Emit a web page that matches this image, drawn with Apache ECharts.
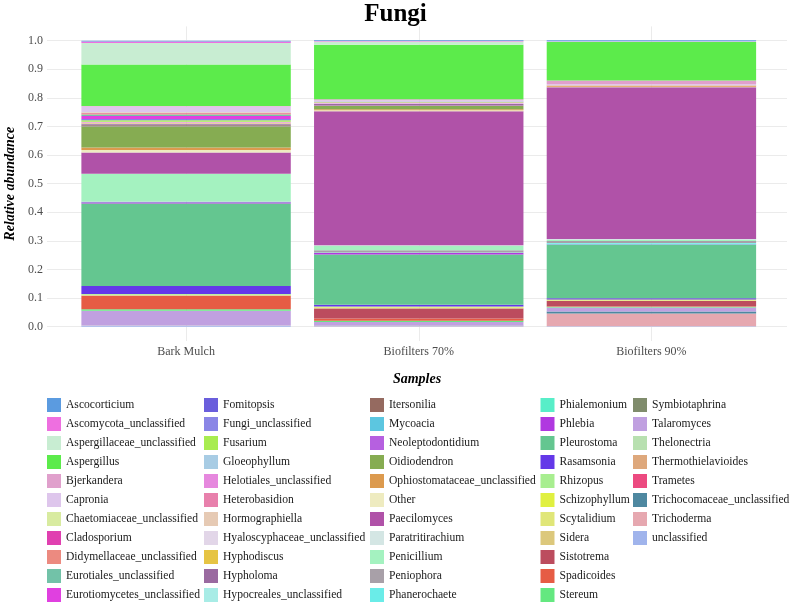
<!DOCTYPE html>
<html>
<head>
<meta charset="utf-8">
<script src="https://cdn.jsdelivr.net/npm/echarts@6/dist/echarts.min.js"></script>
<style>html,body{margin:0;padding:0;background:#fff}#c{width:791px;height:602px}</style>
</head>
<body>
<div id="c"></div>
<script>
const samples = ['Bark Mulch', 'Biofilters 70%', 'Biofilters 90%'];
const yTicks = [0, 0.1, 0.2, 0.3, 0.4, 0.5, 0.6, 0.7, 0.8, 0.9, 1.0];
const genera = ['Ascocorticium','Ascomycota_unclassified','Aspergillaceae_unclassified','Aspergillus','Bjerkandera','Capronia','Chaetomiaceae_unclassified','Cladosporium','Didymellaceae_unclassified','Eurotiales_unclassified','Eurotiomycetes_unclassified',
'Fomitopsis','Fungi_unclassified','Fusarium','Gloeophyllum','Helotiales_unclassified','Heterobasidion','Hormographiella','Hyaloscyphaceae_unclassified','Hyphodiscus','Hypholoma','Hypocreales_unclassified',
'Itersonilia','Mycoacia','Neoleptodontidium','Oidiodendron','Ophiostomataceae_unclassified','Other','Paecilomyces','Paratritirachium','Penicillium','Peniophora','Phanerochaete',
'Phialemonium','Phlebia','Pleurostoma','Rasamsonia','Rhizopus','Schizophyllum','Scytalidium','Sidera','Sistotrema','Spadicoides','Stereum',
'Symbiotaphrina','Talaromyces','Thelonectria','Thermothielavioides','Trametes','Trichocomaceae_unclassified','Trichoderma','unclassified'];
const colors = ['#5B9BE0','#EE6FE0','#C8EDD2','#5CEB4B','#E0A0CC','#DEC6EC','#D8EBA0','#E040B0','#EC8A80','#72C2A8','#E040E0',
'#6A5EDC','#8A86E6','#A8EC50','#A8CCE4','#E688DE','#E880AC','#E6CAB4','#E2D6E8','#E6C444','#9A6AA0','#A8ECE6',
'#956A60','#5CC6E0','#B660E0','#86AC52','#DC9A4E','#EEEBC0','#B052A8','#D4E6E4','#A4F2C0','#A8A0A8','#6AECE8',
'#58EEC8','#B038E0','#64C690','#6438E8','#A8EE90','#E0F040','#E0E678','#DCC87C','#BC4C5E','#E65C44','#64E880',
'#808C6C','#C0A0E0','#B8E0B0','#DEA87C','#EC4A80','#4E88A0','#E6A8B0','#A0B4EC'];
const barkMulch = [0.003,0.005,0.075,0.145,0.002,0.020,0.002,0.002,0.004,0.005,0.011,
0.002,0.002,0.005,0.001,0.002,0.001,0.001,0.001,0.001,0.004,0.001,
0.002,0.001,0.001,0.074,0.009,0.009,0.074,0.001,0.096,0.001,0.001,
0.001,0.004,0.289,0.028,0.002,0.001,0.001,0.002,0.001,0.046,0.005,
0,0.051,0,0,0,0,0.001,0.004];
const biofilters70 = [0.003,0.002,0.012,0.190,0.004,0.004,0,0,0,0.001,0,
0,0.001,0.002,0,0.003,0,0,0.002,0,0.003,0,
0.001,0,0.002,0.012,0.004,0.003,0.4685,0.002,0.0155,0.008,0.001,
0.001,0.005,0.176,0.006,0.001,0.0015,0.003,0.001,0.035,0.0085,0.0045,
0,0.012,0,0,0,0.001,0.001,0.002];
const biofilters90 = [0.003,0.001,0.002,0.135,0.0125,0.005,0,0,0,0,0,
0,0,0,0,0,0,0,0,0,0,0,
0,0,0,0,0.004,0.002,0.530,0.004,0.003,0.007,0.003,
0.003,0.001,0.1865,0.0045,0,0.002,0.002,0.001,0.0185,0.002,0.002,
0.0005,0.014,0,0,0,0.007,0.044,0.002];

const serif = 'Liberation Serif';
const series = [];
for (let i = genera.length - 1; i >= 0; i--) {
  series.push({
    name: genera[i], type: 'bar', stack: 'total', barWidth: '90%',
    xAxisIndex: 1, yAxisIndex: 1,
    itemStyle: { color: colors[i] },
    data: [barkMulch[i], biofilters70[i], biofilters90[i]]
  });
}
series[0].markLine = {
  silent: true, symbol: ['none','none'], z: 1, animation: false,
  label: { show: false },
  lineStyle: { color: '#ebebeb', type: 'solid', width: 1 },
  data: samples.map(s => ({ xAxis: s }))
};
const colLefts = [47, 204, 370, 540.5, 633];
const legends = colLefts.map((l, k) => ({
  orient: 'vertical', left: l, top: 398, height: 260, padding: 0,
  itemWidth: 14, itemHeight: 14, itemGap: 5,
  icon: 'rect', selectedMode: false,
  textStyle: { fontFamily: serif, fontSize: 11.6, color: '#1a1a1a', lineHeight: 14 },
  data: genera.slice(k * 11, k * 11 + 11)
}));

const chart = echarts.init(document.getElementById('c'), null, { renderer: 'canvas' });
chart.setOption({
  animation: false,
  backgroundColor: '#fff',
  title: { text: 'Fungi', left: 'center', top: -3,
    textStyle: { fontFamily: serif, fontSize: 25, fontWeight: 'bold', color: '#000' } },
  legend: legends,
  grid: [
    { left: 47, right: 4, top: 40.7, bottom: 275.3, containLabel: false, outerBoundsMode: 'none' },
    { left: 69.75, right: 23.25, top: 26.4, bottom: 261, containLabel: false, outerBoundsMode: 'none' }
  ],
  xAxis: [
    { type: 'value', gridIndex: 0, min: 0, max: 1,
      name: 'Samples', nameLocation: 'middle', nameGap: 46,
      nameTextStyle: { fontFamily: serif, fontSize: 14, fontWeight: 'bold', fontStyle: 'italic', color: '#000' },
      axisLine: { show: false }, axisTick: { show: false }, axisLabel: { show: false }, splitLine: { show: false } },
    { type: 'category', gridIndex: 1, data: samples,
      axisLine: { show: false }, axisTick: { show: false }, splitLine: { show: false },
      axisLabel: { margin: 5, fontFamily: serif, fontSize: 12, color: '#4d4d4d' } }
  ],
  yAxis: [
    { type: 'value', gridIndex: 0, min: 0, max: 1, interval: 0.1,
      name: 'Relative abundance', nameLocation: 'middle', nameGap: 30, nameRotate: 90,
      nameTextStyle: { fontFamily: serif, fontSize: 14, fontWeight: 'bold', fontStyle: 'italic', color: '#000' },
      axisLine: { show: false }, axisTick: { show: false },
      splitLine: { lineStyle: { color: '#ebebeb', width: 1 } },
      axisLabel: { margin: 4, fontFamily: serif, fontSize: 12, color: '#4d4d4d',
        formatter: v => yTicks.some(t => Math.abs(t - v) < 1e-9) ? v.toFixed(1) : '' } },
    { type: 'value', gridIndex: 1, min: -0.05, max: 1.05, show: false, splitLine: { show: false } }
  ],
  series: series
});
</script>
</body>
</html>
